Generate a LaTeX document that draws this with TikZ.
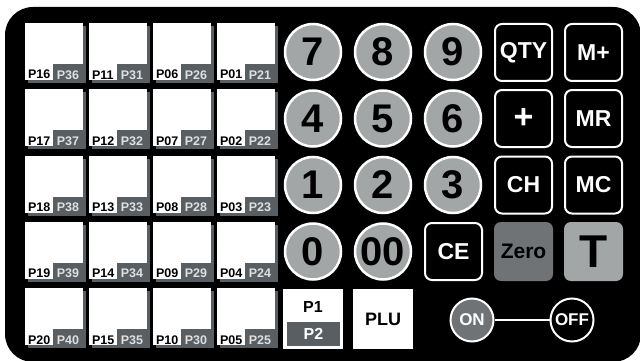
\documentclass[tikz,border=0pt]{standalone}
\usepackage{fontspec}
\setmainfont{Liberation Sans}
\usetikzlibrary{shadows}
\definecolor{slate}{RGB}{88,94,97}
\definecolor{pebble}{RGB}{163,166,167}
\definecolor{smoke}{RGB}{112,115,117}
\definecolor{mist}{RGB}{222,224,225}
\tikzset{
  panel/.style={fill=black,rounded corners=28pt},
  tile/.style={fill=white,minimum width=58pt,minimum height=57pt,inner sep=0pt,
    drop shadow={shadow xshift=3pt,shadow yshift=-3pt,fill=slate,opacity=1}},
  lo tag/.style={anchor=south west,inner sep=0pt,xshift=3pt,yshift=1pt,
    font=\bfseries\fontsize{12.5}{12.5}\selectfont},
  hi tag/.style={anchor=south east,fill=slate,text=mist,inner sep=0pt,
    minimum width=30pt,text height=15pt,text depth=1pt,
    font=\bfseries\fontsize{12.5}{12.5}\selectfont},
  numkey/.style={circle,draw=white,line width=2.5pt,fill=pebble,minimum size=56pt,
    inner sep=0pt,font=\bfseries\fontsize{40}{40}\selectfont},
  fnkey/.style={draw=white,line width=2pt,rounded corners=7pt,minimum size=57pt,
    inner sep=0pt,text=white,font=\bfseries\fontsize{23}{23}\selectfont},
  greykey/.style={fill=#1,rounded corners=7pt,minimum size=59pt,inner sep=0pt},
  greykey/.default=pebble,
  plainkey/.style={fill=white,minimum size=60pt,inner sep=0pt,
    font=\bfseries\fontsize{18}{18}\selectfont},
  switch/.style={circle,draw=white,line width=2pt,fill=#1,minimum size=43pt,
    inner sep=0pt,text=white,font=\bfseries\fontsize{17}{17}\selectfont},
  switch/.default=black,
}

\begin{document}
\begin{tikzpicture}[x=1pt,y=-1pt]
  \useasboundingbox (0,0) rectangle (640,361);
  \fill[panel] (5,7) rectangle (641,362);
  % PLU tiles
  \foreach \i in {0,...,3}
    \foreach \j in {0,...,4} {
      \pgfmathtruncatemacro{\lo}{(3-\i)*5+\j+1}
      \pgfmathtruncatemacro{\hi}{\lo+20}
      \pgfmathsetmacro{\x}{54+\i*64}
      \pgfmathsetmacro{\y}{51.5+\j*66.3}
      \node[tile] (t\lo) at (\x,\y) {};
      \node[lo tag] at (t\lo.south west) {P\ifnum\lo<10 0\fi\lo};
      \node[hi tag] at (t\lo.south east) {P\hi};
    }
  % digits
  \foreach \k [count=\i from 0] in {7,8,9,4,5,6,1,2,3} {
    \pgfmathsetmacro{\x}{313+mod(\i,3)*70}
    \pgfmathsetmacro{\y}{52+floor(\i/3)*66.5}
    \node[numkey] (k\k) at (\x,\y) {\k};
  }
  \node[numkey] (k0) at (313,251.5) {0};
  \node[numkey] (k00) at (383,251.5) {00};
  % function keys
  \foreach \t/\n/\x/\y in {QTY/qty/523.5/52.5, M+/mplus/593.5/52.5,
      MR/mr/593.5/118.5, CH/ch/523.5/185, MC/mc/593.5/185, CE/ce/453.5/251.5}
    \node[fnkey] (\n) at (\x,\y) {\t};
  \node[fnkey,font=\bfseries\fontsize{34}{34}\selectfont] (plus) at (523.5,118.5) {+};
  \node[greykey=smoke,font=\bfseries\fontsize{21}{21}\selectfont] (zero) at (523.5,251.5) {Zero};
  \node[greykey,font=\bfseries\fontsize{46}{46}\selectfont] (total) at (593.5,251.5) {T};
  % price levels
  \node[plainkey] (lvl) at (313,319) {};
  \node[font=\bfseries\fontsize{16}{16}\selectfont] (p1) at (313,307) {P1};
  \node[fill=slate,text=white,minimum width=53pt,minimum height=24pt,inner sep=0pt,
    font=\bfseries\fontsize{16}{16}\selectfont] (p2) at (313.5,334) {P2};
  \node[plainkey] (plu) at (383,319) {PLU};
  % power
  \node[switch=smoke] (on) at (472,320) {ON};
  \node[switch] (off) at (572,320) {OFF};
  \draw[white,line width=1.5pt] (on) -- (off);
\end{tikzpicture}
\end{document}
